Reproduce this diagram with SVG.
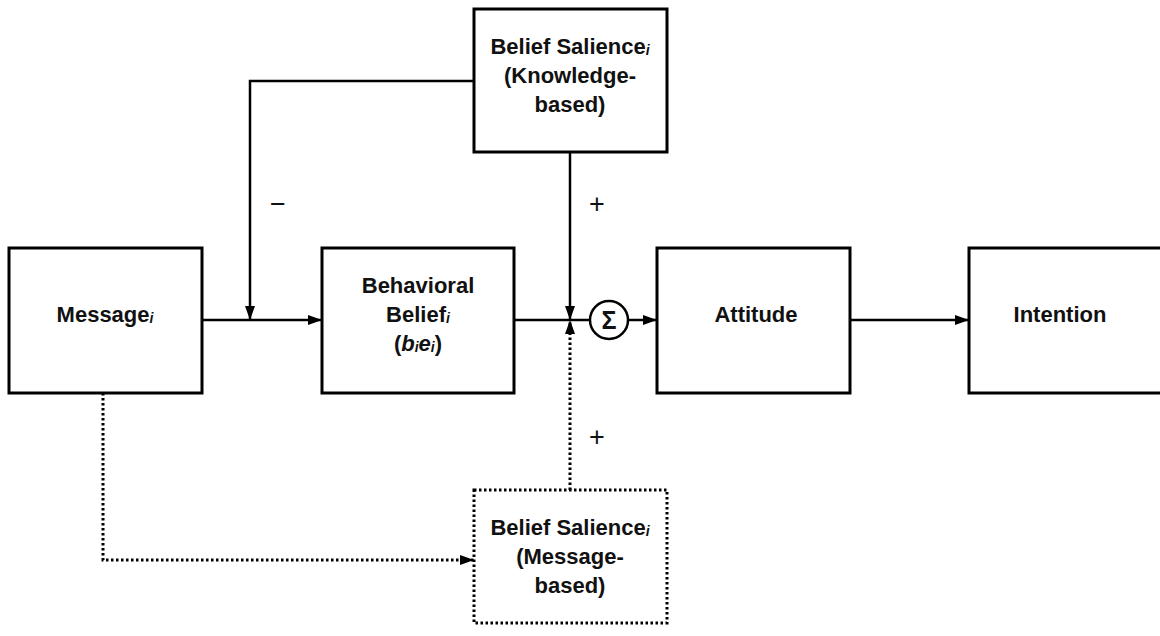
<svg xmlns="http://www.w3.org/2000/svg" width="1160" height="636" viewBox="0 0 1160 636">
<defs>
<style>
.box{fill:#fff;stroke:#000;stroke-width:3}
.dbox{fill:#fff;stroke:#000;stroke-width:3;stroke-dasharray:2.5 2.5}
.ln{fill:none;stroke:#000;stroke-width:2.5}
.dl{fill:none;stroke:#000;stroke-width:3;stroke-dasharray:2.5 2.5}
text{font-family:"Liberation Sans",Arial,sans-serif;font-weight:bold;font-size:22px;fill:#111;text-anchor:middle}
.sub{font-size:14px;font-style:italic}
.it{font-style:italic}
.sign{font-weight:normal;font-size:27px}
</style>
<marker id="ah" viewBox="0 0 14 10" refX="14" refY="5" markerWidth="14" markerHeight="10" markerUnits="userSpaceOnUse" orient="auto">
<path d="M0,0 L14,5 L0,10 Z" fill="#000"/>
</marker>
</defs>
<g id="connectors">
<polyline class="ln" points="474,81 250,81 250,320" marker-end="url(#ah)"/>
<line class="ln" x1="202" y1="320" x2="322" y2="320" marker-end="url(#ah)"/>
<line class="ln" x1="514" y1="320" x2="590" y2="320"/>
<line class="ln" x1="570" y1="152" x2="570" y2="320" marker-end="url(#ah)"/>
<polyline class="dl" points="103,393 103,560 474,560" marker-end="url(#ah)"/>
<line class="dl" x1="570" y1="490" x2="570" y2="320" marker-end="url(#ah)"/>
<line class="ln" x1="629" y1="320" x2="657" y2="320" marker-end="url(#ah)"/>
<line class="ln" x1="850" y1="320" x2="969" y2="320" marker-end="url(#ah)"/>
<text class="sign" x="278" y="213">−</text>
<text class="sign" x="597" y="213">+</text>
<text class="sign" x="597" y="446">+</text>
</g>
<g id="message">
<rect class="box" x="9" y="248" width="193" height="145"/>
<text x="105" y="322">Message<tspan class="sub" dy="1">i</tspan></text>
</g>
<g id="behavioral">
<rect class="box" x="322" y="248" width="192" height="145"/>
<text x="418" y="293">Behavioral</text>
<text x="418" y="322">Belief<tspan class="sub" dy="1">i</tspan></text>
<text x="418" y="351">(<tspan class="it">b</tspan><tspan class="sub" dy="1">i</tspan><tspan class="it" dy="-1">e</tspan><tspan class="sub" dy="1">i</tspan><tspan dy="-1">)</tspan></text>
</g>
<g id="sum">
<circle cx="609" cy="320" r="19" fill="#fff" stroke="#000" stroke-width="2.5"/>
<text x="609" y="329" style="font-size:25px">Σ</text>
</g>
<g id="attitude">
<rect class="box" x="657" y="248" width="193" height="145"/>
<text x="756" y="322">Attitude</text>
</g>
<g id="intention">
<rect class="box" x="969" y="248" width="193" height="145"/>
<text x="1060" y="322">Intention</text>
</g>
<g id="salience-knowledge">
<rect class="box" x="474" y="9" width="193" height="143"/>
<text x="570" y="54">Belief Salience<tspan class="sub" dy="1">i</tspan></text>
<text x="570" y="83">(Knowledge-</text>
<text x="570" y="112">based)</text>
</g>
<g id="salience-message">
<rect class="dbox" x="474" y="490" width="193" height="133"/>
<text x="570" y="535">Belief Salience<tspan class="sub" dy="1">i</tspan></text>
<text x="570" y="564">(Message-</text>
<text x="570" y="593">based)</text>
</g>
</svg>
